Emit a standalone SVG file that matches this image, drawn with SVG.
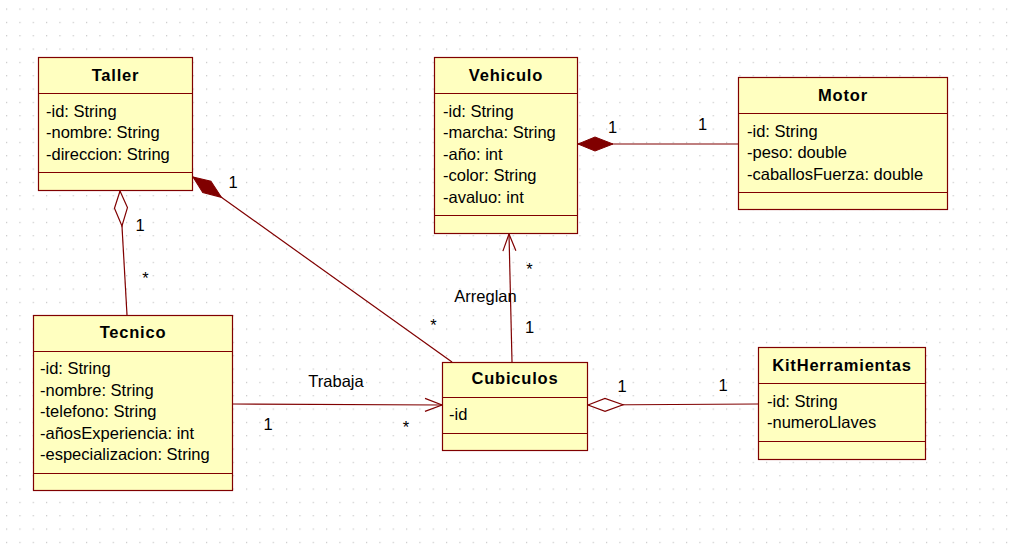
<svg xmlns="http://www.w3.org/2000/svg" width="1010" height="555" viewBox="0 0 1010 555">
  <style>
    .box { fill: #ffffc0; stroke: #800000; stroke-width: 1.2; }
    .sep { stroke: #800000; stroke-width: 1.2; }
    .title { font-family: "Liberation Sans", Arial, sans-serif; font-size: 16.5px; font-weight: bold; letter-spacing: 0.8px; text-anchor: middle; fill: #000; }
    .attr { font-family: "Liberation Sans", Arial, sans-serif; font-size: 16.5px; fill: #000; }
    .lbl { font-family: "Liberation Sans", Arial, sans-serif; font-size: 16.5px; fill: #000; text-anchor: middle; }
    .conn { fill: none; stroke: #800000; stroke-width: 1.2; }
  </style>
  <defs>
    <pattern id="grid" x="6" y="8.5" width="13.333" height="13.333" patternUnits="userSpaceOnUse">
      <rect x="0" y="0" width="1.2" height="1.2" fill="#c4c4c4"/>
    </pattern>
    <marker id="diamondFilled" markerUnits="userSpaceOnUse" viewBox="-1 -8 38 16" refX="0" refY="0" markerWidth="38" markerHeight="16" orient="auto">
      <path d="M0,0 L17,-7 L35,0 L17,7 Z" fill="#800000" stroke="#800000" stroke-width="1"/>
    </marker>
    <marker id="diamondOpen" markerUnits="userSpaceOnUse" viewBox="-1 -8 38 16" refX="0" refY="0" markerWidth="38" markerHeight="16" orient="auto">
      <path d="M0,0 L17,-6.5 L35,0 L17,6.5 Z" fill="#ffffff" stroke="#800000" stroke-width="1.2"/>
    </marker>
    <marker id="arrowOpen" markerUnits="userSpaceOnUse" viewBox="-18 -9 20 18" refX="0" refY="0" markerWidth="20" markerHeight="18" orient="auto">
      <path d="M-17,-6.5 L0,0 L-17,6.5" fill="none" stroke="#800000" stroke-width="1.2"/>
    </marker>
  </defs>

  <!-- canvas with dotted grid -->
  <rect x="0" y="0" width="1010" height="555" fill="#ffffff"/>
  <rect x="0" y="0" width="1010" height="555" fill="url(#grid)"/>

  <!-- associations -->
  <g id="connectors">
    <path class="conn" d="M120,191 L127,315" marker-start="url(#diamondOpen)"/>
    <path class="conn" d="M193,177 L452,362" marker-start="url(#diamondFilled)"/>
    <path class="conn" d="M578,144 L738,144" marker-start="url(#diamondFilled)"/>
    <path class="conn" d="M512,362 L509,234" marker-end="url(#arrowOpen)"/>
    <path class="conn" d="M232,404 L442,405" marker-end="url(#arrowOpen)"/>
    <path class="conn" d="M588,405 L758,404" marker-start="url(#diamondOpen)"/>

    <text class="lbl" x="140" y="231">1</text>
    <text class="lbl" x="145.5" y="284">*</text>
    <text class="lbl" x="233" y="188">1</text>
    <text class="lbl" x="433.5" y="331">*</text>
    <text class="lbl" x="612.5" y="133">1</text>
    <text class="lbl" x="702.5" y="130">1</text>
    <text class="lbl" x="485.5" y="302">Arreglan</text>
    <text class="lbl" x="529.5" y="274.5">*</text>
    <text class="lbl" x="529.5" y="333">1</text>
    <text class="lbl" x="336" y="387">Trabaja</text>
    <text class="lbl" x="268" y="430">1</text>
    <text class="lbl" x="406" y="433">*</text>
    <text class="lbl" x="622" y="391.5">1</text>
    <text class="lbl" x="723" y="391">1</text>
  </g>

  <g id="taller">
    <rect class="box" x="38.5" y="57.5" width="154" height="133"/>
    <line class="sep" x1="38.5" y1="93.5" x2="192.5" y2="93.5"/>
    <line class="sep" x1="38.5" y1="172.5" x2="192.5" y2="172.5"/>
    <text class="title" x="115.5" y="81">Taller</text>
    <text class="attr" x="46" y="116.5">-id: String</text>
    <text class="attr" x="46" y="138">-nombre: String</text>
    <text class="attr" x="46" y="159.5">-direccion: String</text>
  </g>

  <g id="vehiculo">
    <rect class="box" x="434.5" y="57.5" width="143" height="176"/>
    <line class="sep" x1="434.5" y1="93.5" x2="577.5" y2="93.5"/>
    <line class="sep" x1="434.5" y1="215.5" x2="577.5" y2="215.5"/>
    <text class="title" x="506" y="81">Vehiculo</text>
    <text class="attr" x="443" y="116.5">-id: String</text>
    <text class="attr" x="443" y="138">-marcha: String</text>
    <text class="attr" x="443" y="159.5">-año: int</text>
    <text class="attr" x="443" y="181">-color: String</text>
    <text class="attr" x="443" y="202.5">-avaluo: int</text>
  </g>

  <g id="motor">
    <rect class="box" x="738.5" y="77.5" width="209" height="132"/>
    <line class="sep" x1="738.5" y1="113.5" x2="947.5" y2="113.5"/>
    <line class="sep" x1="738.5" y1="192.5" x2="947.5" y2="192.5"/>
    <text class="title" x="843" y="100.5">Motor</text>
    <text class="attr" x="747" y="136.5">-id: String</text>
    <text class="attr" x="747" y="158">-peso: double</text>
    <text class="attr" x="747" y="179.5">-caballosFuerza: double</text>
  </g>

  <g id="tecnico">
    <rect class="box" x="33.5" y="315.5" width="199" height="175"/>
    <line class="sep" x1="33.5" y1="351.5" x2="232.5" y2="351.5"/>
    <line class="sep" x1="33.5" y1="473.5" x2="232.5" y2="473.5"/>
    <text class="title" x="133" y="338">Tecnico</text>
    <text class="attr" x="40" y="374">-id: String</text>
    <text class="attr" x="40" y="395.5">-nombre: String</text>
    <text class="attr" x="40" y="417">-telefono: String</text>
    <text class="attr" x="40" y="438.5">-añosExperiencia: int</text>
    <text class="attr" x="40" y="460">-especializacion: String</text>
  </g>

  <g id="cubiculos">
    <rect class="box" x="442.5" y="362.5" width="145" height="88"/>
    <line class="sep" x1="442.5" y1="397.5" x2="587.5" y2="397.5"/>
    <line class="sep" x1="442.5" y1="433.5" x2="587.5" y2="433.5"/>
    <text class="title" x="515" y="384">Cubiculos</text>
    <text class="attr" x="449" y="420">-id</text>
  </g>

  <g id="kitHerramientas">
    <rect class="box" x="758.5" y="347.5" width="167" height="112"/>
    <line class="sep" x1="758.5" y1="383.5" x2="925.5" y2="383.5"/>
    <line class="sep" x1="758.5" y1="441.5" x2="925.5" y2="441.5"/>
    <text class="title" x="842" y="371">KitHerramientas</text>
    <text class="attr" x="767" y="406.5">-id: String</text>
    <text class="attr" x="767" y="428">-numeroLlaves</text>
  </g>
</svg>
